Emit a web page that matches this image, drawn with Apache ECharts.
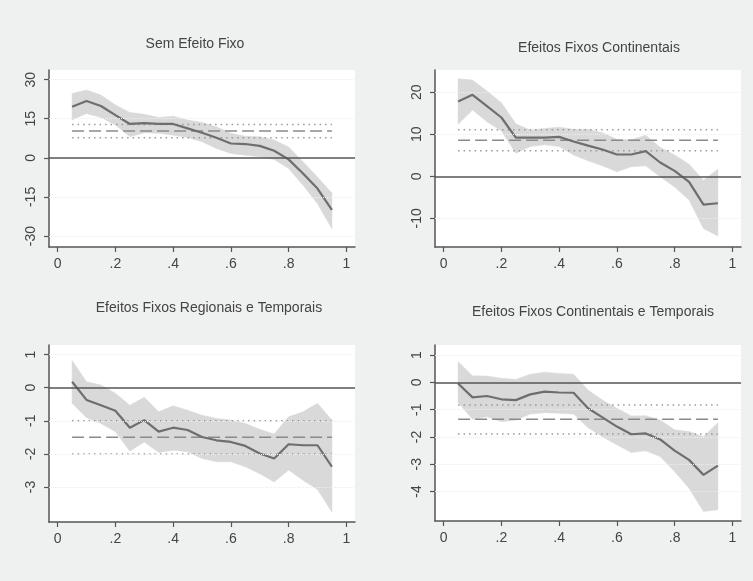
<!DOCTYPE html>
<html>
<head>
<meta charset="utf-8">
<script src="https://cdn.jsdelivr.net/npm/echarts@6/dist/echarts.min.js"></script>
<style>
html,body{margin:0;padding:0;background:#eff0f0;}
#chart{width:753px;height:581px;}
</style>
</head>
<body>
<div id="chart"></div>
<script>
const quantiles = [0.05,0.10,0.15,0.20,0.25,0.30,0.35,0.40,0.45,0.50,0.55,0.60,0.65,0.70,0.75,0.80,0.85,0.90,0.95];

const titles = ["Sem Efeito Fixo","Efeitos Fixos Continentais","Efeitos Fixos Regionais e Temporais","Efeitos Fixos Continentais e Temporais"];

// Panel 1: Sem Efeito Fixo
const p1Est = [19.6,21.8,19.9,16.4,13.0,13.3,13.0,13.0,11.3,9.6,7.7,5.5,5.3,4.6,2.7,-0.6,-6.0,-11.8,-20.0];
const p1Up  = [24.7,26.0,24.1,20.3,17.4,16.7,15.5,16.0,14.5,13.6,11.9,9.4,8.3,8.1,6.8,4.2,-1.5,-7.3,-13.5];
const p1Lo  = [14.5,17.0,15.5,12.6,8.1,9.6,9.4,8.7,7.8,6.2,3.6,1.7,1.0,0.4,-0.6,-4.1,-10.5,-17.6,-27.2];
const p1Ols = [10.3,12.8,7.7]; // coef, upper, lower

// Panel 2: Efeitos Fixos Continentais
const p2Est = [17.8,19.4,16.7,14.0,9.2,9.2,9.2,9.4,8.3,7.3,6.4,5.2,5.2,6.0,3.3,1.3,-1.3,-6.7,-6.4];
const p2Up  = [23.2,22.9,20.3,17.5,12.5,11.0,11.4,11.7,11.2,11.2,10.4,8.8,8.7,9.8,6.9,5.1,2.9,-0.9,1.7];
const p2Lo  = [12.4,15.8,13.0,10.8,5.5,7.1,7.5,7.1,5.1,3.7,2.5,1.1,2.3,2.5,-0.1,-2.5,-5.6,-12.4,-14.2];
const p2Ols = [8.6,11.1,6.1];

// Panel 3: Efeitos Fixos Regionais e Temporais
const p3Est = [0.18,-0.37,-0.53,-0.70,-1.21,-0.98,-1.33,-1.21,-1.28,-1.49,-1.59,-1.64,-1.76,-1.99,-2.14,-1.71,-1.74,-1.74,-2.39];
const p3Up  = [0.82,0.18,0.08,-0.17,-0.53,-0.29,-0.73,-0.55,-0.68,-0.83,-0.93,-0.98,-1.08,-1.26,-1.40,-0.88,-0.73,-0.47,-0.98];
const p3Lo  = [-0.47,-0.91,-1.08,-1.33,-1.92,-1.64,-1.96,-1.89,-1.94,-2.14,-2.24,-2.24,-2.39,-2.60,-2.85,-2.49,-2.80,-3.08,-3.76];
const p3Ols = [-1.5,-1.0,-2.0];

// Panel 4: Efeitos Fixos Continentais e Temporais
const p4Est = [-0.04,-0.55,-0.50,-0.62,-0.65,-0.44,-0.34,-0.37,-0.38,-0.95,-1.28,-1.62,-1.90,-1.87,-2.09,-2.50,-2.84,-3.39,-3.05];
const p4Up  = [0.76,0.24,0.23,0.15,0.11,0.30,0.37,0.33,0.30,-0.28,-0.65,-0.95,-1.23,-1.22,-1.38,-1.74,-1.80,-1.99,-1.48];
const p4Lo  = [-0.74,-1.35,-1.26,-1.44,-1.38,-1.16,-1.11,-1.13,-1.16,-1.66,-1.99,-2.29,-2.57,-2.51,-2.72,-3.27,-3.88,-4.73,-4.67];
const p4Ols = [-1.35,-0.83,-1.89];

const xTickValues = [0,0.2,0.4,0.6,0.8,1];
const xTickLabels = ["0",".2",".4",".6",".8","1"];
const p1YTicks = [-30,-15,0,15,30];
const p2YTicks = [-10,0,10,20];
const p3YTicks = [-3,-2,-1,0,1];
const p4YTicks = [-4,-3,-2,-1,0,1];

const panels = [
  {est:p1Est, up:p1Up, lo:p1Lo, ols:p1Ols, ticks:p1YTicks, ymin:-34.2, ymax:33.7, grid:{left:49, top:70, width:306, height:177}, title:{x:190, y:44}},
  {est:p2Est, up:p2Up, lo:p2Lo, ols:p2Ols, ticks:p2YTicks, ymin:-16.8, ymax:25.3, grid:{left:435, top:70, width:306, height:177}, title:{x:594, y:48}},
  {est:p3Est, up:p3Up, lo:p3Lo, ols:p3Ols, ticks:p3YTicks, ymin:-4.06, ymax:1.29, grid:{left:49, top:345, width:306, height:177}, title:{x:204, y:308}},
  {est:p4Est, up:p4Up, lo:p4Lo, ols:p4Ols, ticks:p4YTicks, ymin:-5.08, ymax:1.37, grid:{left:435, top:345, width:306, height:176}, title:{x:588, y:312}}
];

const FONT = "'Liberation Sans', Arial, sans-serif";
const AXIS = '#555';
const LABEL = '#444';

const option = {
  backgroundColor: '#eff0f0',
  animation: false,
  title: [], grid: [], xAxis: [], yAxis: [], series: []
};

panels.forEach((p, i) => {
  option.title.push({
    text: titles[i], left: p.title.x, top: p.title.y - 12, textAlign: 'center',
    textStyle: {fontFamily: FONT, fontSize: 14, fontWeight: 'normal', color: LABEL}
  });
  option.grid.push(Object.assign({show: true, backgroundColor: '#ffffff', borderWidth: 0}, p.grid));
  option.xAxis.push({
    type: 'value', gridIndex: i, min: -0.03, max: 1.03,
    axisLine: {show: true, onZero: false, lineStyle: {color: AXIS, width: 1.5}},
    axisTick: {show: true, length: 5, customValues: xTickValues, lineStyle: {color: AXIS, width: 1.2}},
    axisLabel: {customValues: xTickValues, margin: 10, fontFamily: FONT, fontSize: 14, color: LABEL,
      formatter: v => { let k = 0; xTickValues.forEach((t, j) => { if (Math.abs(t - v) < 1e-6) k = j; }); return xTickLabels[k]; }},
    splitLine: {show: false}
  });
  option.yAxis.push({
    type: 'value', gridIndex: i, min: p.ymin, max: p.ymax,
    axisLine: {show: true, onZero: false, lineStyle: {color: AXIS, width: 1.5}},
    axisTick: {show: true, length: 5, customValues: p.ticks, lineStyle: {color: AXIS, width: 1.2}},
    axisLabel: {customValues: p.ticks, rotate: 90, margin: 11, fontFamily: FONT, fontSize: 14, color: LABEL,
      formatter: v => String(Math.round(v))},
    splitLine: {show: false}
  });
  // grid lines + zero reference line
  const mlData = p.ticks.filter(t => t !== 0).map(t => ({yAxis: t, lineStyle: {color: '#ededed', width: 1, type: 'dotted'}}));
  mlData.push({yAxis: 0, lineStyle: {color: '#555', width: 1.6, type: 'solid'}});
  option.series.push({
    type: 'line', xAxisIndex: i, yAxisIndex: i, data: [], z: 1,
    markLine: {silent: true, symbol: 'none', label: {show: false}, data: mlData}
  });
  // confidence band as one polygon through the axes' scales
  const bandRows = quantiles.map((q, j) => [q, p.lo[j], p.up[j]]);
  option.series.push({
    type: 'custom', xAxisIndex: i, yAxisIndex: i, z: 2, silent: true,
    data: bandRows,
    encode: {x: 0, y: [1, 2]},
    renderItem: (params, api) => {
      if (params.dataIndex !== 0) return null;
      const top = bandRows.map(r => api.coord([r[0], r[2]]));
      const bot = bandRows.map(r => api.coord([r[0], r[1]])).reverse();
      return {type: 'polygon', shape: {points: top.concat(bot)}, style: {fill: '#d9d9d9', stroke: '#d9d9d9', lineWidth: 0.5}};
    }
  });
  // OLS coefficient and CI
  const x0 = quantiles[0], x1 = quantiles[quantiles.length - 1];
  option.series.push({
    type: 'line', xAxisIndex: i, yAxisIndex: i, data: [[x0, p.ols[0]], [x1, p.ols[0]]], symbol: 'none', z: 3,
    lineStyle: {color: '#8a8a8a', width: 1.6, type: [12, 5]}
  });
  [1, 2].forEach(k => option.series.push({
    type: 'line', xAxisIndex: i, yAxisIndex: i, data: [[x0, p.ols[k]], [x1, p.ols[k]]], symbol: 'none', z: 3,
    lineStyle: {color: '#999', width: 1.4, type: [1.5, 4]}
  }));
  // estimate
  option.series.push({
    type: 'line', xAxisIndex: i, yAxisIndex: i, data: quantiles.map((q, j) => [q, p.est[j]]), symbol: 'none', z: 4,
    lineStyle: {color: '#6e6e6e', width: 2.2}
  });
});

const chart = echarts.init(document.getElementById('chart'), null, {renderer: 'canvas'});
chart.setOption(option);
</script>
</body>
</html>
